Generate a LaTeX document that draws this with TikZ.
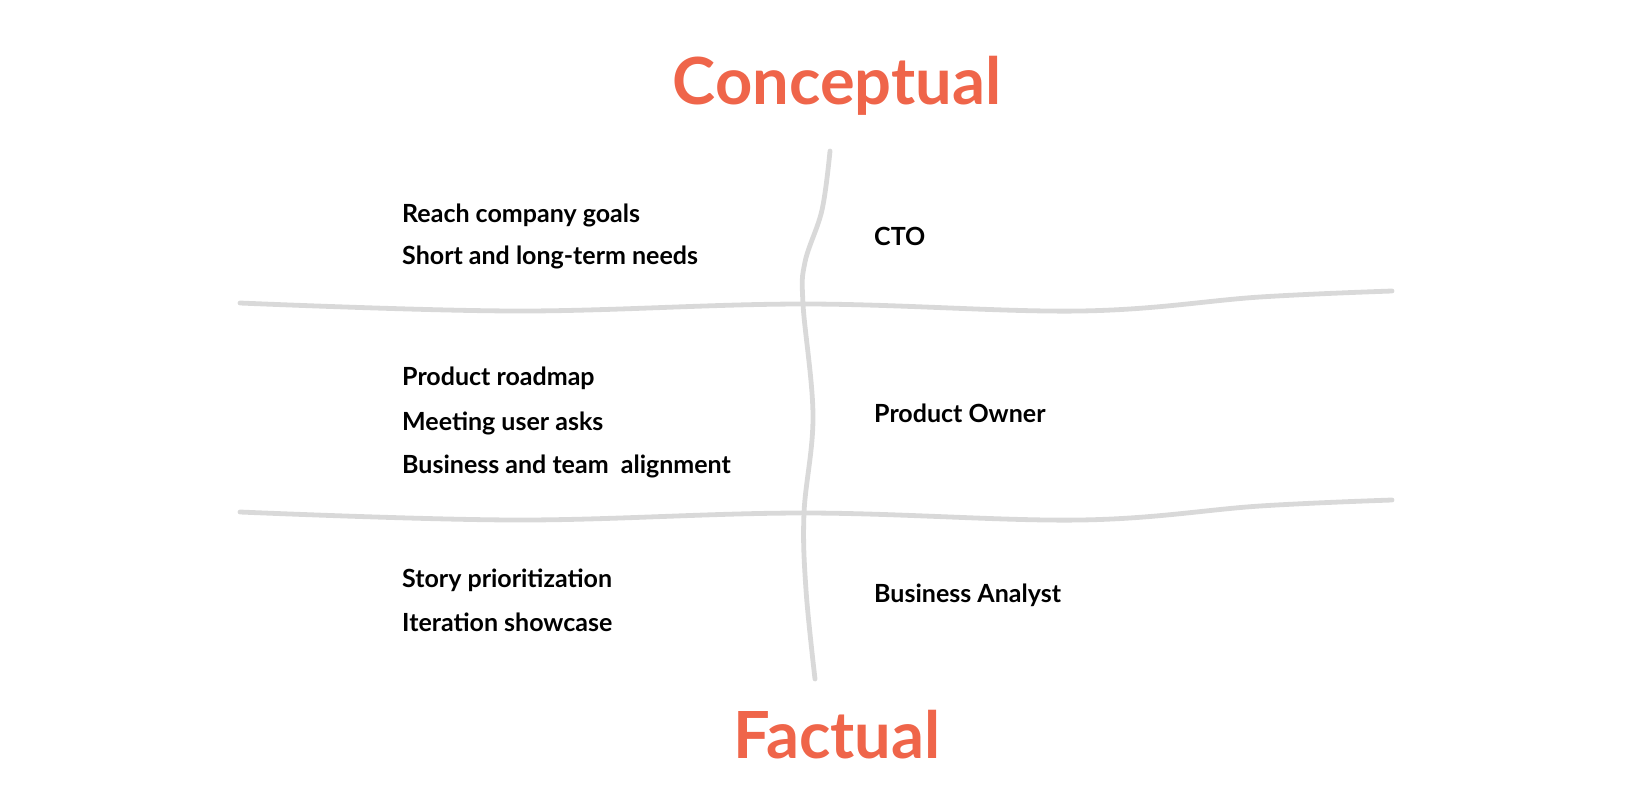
\documentclass[tikz,border=0pt]{standalone}
\usepackage{fontspec}
\setmainfont{Lato}
\usepackage{tikz}
\usetikzlibrary{positioning}
\definecolor{titleorange}{RGB}{239,101,74}
\definecolor{gridgray}{RGB}{217,217,217}

\begin{document}
\begin{tikzpicture}[
  x=1pt, y=-1pt,
  heading/.style={font=\fontsize{65}{65}\selectfont\bfseries, text=titleorange, anchor=base, inner sep=0pt},
  item/.style={font=\fontsize{25}{25}\selectfont\bfseries, anchor=base west, inner sep=0pt},
  wavy/.style={draw=gridgray, line width=4.8pt, line cap=round}
]
\useasboundingbox (0,0) rectangle (1632,804);

% grid lines
\draw[wavy] plot[smooth, tension=0.6] coordinates {(240,303) (517,311) (804,304) (1080,311) (1260,297) (1392,291)};
\draw[wavy] plot[smooth, tension=0.6] coordinates {(240,512) (517,520) (804,513) (1080,520) (1260,506) (1392,500)};
\draw[wavy] plot[smooth, tension=0.6] coordinates {(830,151) (822,210) (805,262) (803,304) (813,416) (804,513) (806,590) (815,679)};

% headings
\node[heading] (conceptual) at (837,104) {Conceptual};
\node[heading] (factual) at (837,758) {Factual};

% left column
\node[item] (goals) at (402,222) {Reach company goals};
\node[item] (needs) at (402,264) {Short and long-term needs};
\node[item] (roadmap) at (402,385) {Product roadmap};
\node[item] (asks) at (402,430) {Meeting user asks};
\node[item] (alignment) at (402,473) {Business and team\ \ alignment};
\node[item] (prioritization) at (402,587) {Story prioritization};
\node[item] (showcase) at (402,631) {Iteration showcase};

% right column
\node[item] (cto) at (874,245) {CTO};
\node[item] (owner) at (874,422) {Product Owner};
\node[item] (analyst) at (874,602) {Business Analyst};
\end{tikzpicture}
\end{document}
